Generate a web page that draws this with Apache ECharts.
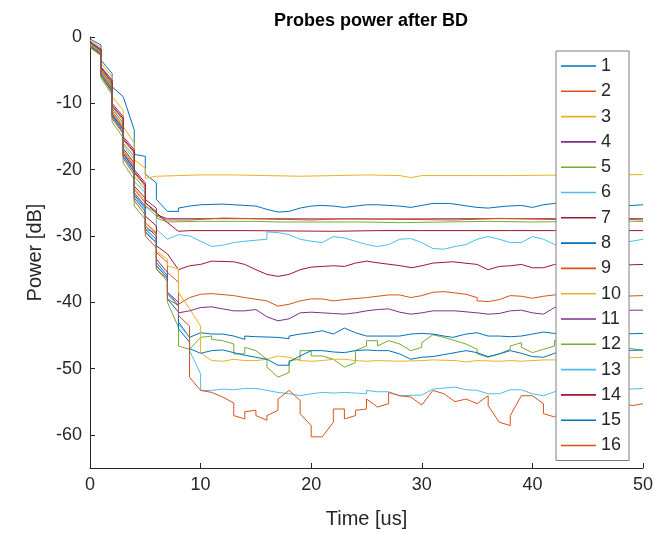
<!DOCTYPE html>
<html>
<head>
<meta charset="utf-8">
<script src="https://cdn.jsdelivr.net/npm/echarts@6/dist/echarts.min.js"></script>
<style>
html,body{margin:0;padding:0;background:#fff;}
#chart{width:665px;height:534px;}
</style>
</head>
<body>
<div id="chart"></div>
<script>
// ---- data: [time (us), power (dB)] per probe ----
const probe1 = [[0,-0.3],[1,-1.2],[1,-3.5],[2,-5.5],[2,-7.5],[3,-9],[4,-14],[4,-17.7],[5,-18],[5,-20.7],[6,-22],[6,-24.5],[7,-26.3],[8,-26.3],[8,-25.8],[9,-25.5],[10,-25.3],[12,-25.2],[13,-25.3],[14,-25.4],[15,-25.5],[16,-26.0],[17,-26.4],[18,-26.3],[19,-25.8],[20,-25.5],[21,-25.4],[22,-25.5],[23,-25.7],[24,-25.5],[25,-25.3],[26,-25.3],[28,-25.5],[29,-25.7],[30,-25.4],[31,-25.1],[32.5,-25.1],[35,-25.7],[36,-25.8],[37.7,-25.5],[39,-25.4],[40,-25.7],[41,-25.3],[42,-25.1],[44,-25.2],[46,-25.5],[48,-25.5],[50,-25.3]];
const probe2 = [[0,-1.2],[1,-2.4],[1,-5.4],[2,-7.8],[2,-11.5],[3,-13.8],[3,-17.2],[4,-19.5],[4,-23],[5,-25],[5,-28],[6,-29.5],[6,-32.5],[7,-34],[7,-35.5],[8,-37],[8,-40.3],[9,-39.3],[10,-38.8],[11,-38.7],[13,-39.0],[14,-39.3],[16,-39.8],[17,-40.6],[18,-40.3],[19,-39.8],[20,-39.5],[21,-39.5],[22,-39.8],[23,-39.6],[25,-39.3],[27,-38.9],[28,-38.9],[29,-39.3],[30,-39.0],[31,-38.5],[32,-38.4],[33,-38.6],[34,-38.8],[35,-39.3],[35,-39.8],[36,-39.9],[37,-39.6],[38,-39.0],[39,-39.1],[40,-39.4],[41,-39.1],[42,-38.9],[44,-39.0],[46,-39.3],[48,-39.1],[50,-39.0]];
const probe3 = [[0,-0.5],[1,-1.5],[1,-4],[2,-6],[2,-9],[3,-11],[3,-13.5],[4,-16],[4,-18.5],[5,-19.8],[5,-21.3],[6,-21.0],[8,-20.9],[10,-20.8],[13,-20.8],[16,-20.9],[19,-21.0],[22,-20.9],[25,-20.8],[28,-20.9],[29,-21.2],[30,-20.9],[35,-20.9],[38,-20.9],[41,-20.85],[44,-20.8],[47,-20.8],[50,-20.75]];
const probe4 = [[0,-0.7],[1,-1.8],[1,-4.5],[2,-6.5],[2,-10],[3,-12],[3,-15],[4,-17],[4,-20],[5,-22],[5,-24.5],[6,-25.8],[6,-26.8],[7,-27.4],[15,-27.4],[25,-27.45],[35,-27.4],[50,-27.4]];
const probe5 = [[0,-1.6],[1,-2.8],[1,-6.2],[2,-8.7],[2,-12.8],[3,-15.2],[3,-19],[4,-21.5],[4,-25.5],[5,-27.5],[5,-29],[6,-29.5],[6,-35],[7,-36.5],[7,-40],[8,-43.8],[8,-46.6],[9,-47.1],[10,-45.3],[11,-45.1],[11,-45.6],[12,-45.8],[13,-46.3],[13,-47.8],[14,-47.8],[14,-46.8],[15,-47.3],[16,-48.6],[16,-49.8],[17,-51.3],[18,-50.6],[18,-48.8],[19,-48.6],[19,-47.3],[20,-47.3],[20,-48.1],[21,-48.1],[22,-48.6],[23,-49.8],[24,-49.1],[24,-47.3],[25,-46.6],[25,-45.8],[26,-45.8],[26,-46.6],[27,-45.8],[28,-46.3],[29,-47.3],[30,-46.8],[30,-46.1],[31,-44.9],[32,-45.3],[33,-45.8],[34,-46.3],[35,-47.1],[35,-47.8],[36,-48.3],[37,-47.8],[38,-47.1],[38,-46.6],[39,-46.1],[39,-46.8],[40,-47.6],[41,-47.1],[42,-46.6],[42,-45.8],[43,-46.3],[44,-46.8],[45,-47.0],[46,-47.2],[47,-46.5],[48,-46.8],[49,-47.0],[50,-47.3]];
const probe6 = [[0,-1.0],[1,-2.1],[1,-5],[2,-7.2],[2,-10.8],[3,-13],[3,-16.3],[4,-18.5],[4,-21.8],[5,-23.5],[5,-25.5],[6,-27],[6,-29],[7,-30.5],[8,-29.8],[9,-30.0],[10,-30.8],[11,-31.6],[12,-31.4],[13,-31.0],[14,-30.8],[16,-30.5],[16,-29.4],[17,-29.5],[18,-29.8],[19,-30.5],[20,-30.8],[21,-31.0],[22,-30.1],[23,-30.3],[24,-30.8],[25,-31.3],[26,-31.6],[27,-31.3],[28,-30.5],[29,-30.4],[30,-31.0],[31,-31.9],[32,-32.0],[33,-31.6],[34,-31.3],[35,-30.5],[36,-30.1],[37,-30.5],[38,-31.0],[39,-31.0],[40,-30.1],[41,-30.5],[42,-31.3],[43,-31.5],[44,-31.0],[45,-30.5],[46,-30.3],[47,-30.6],[48,-31.0],[49,-30.8],[50,-30.5]];
const probe7 = [[0,-1.1],[1,-2.3],[1,-5.2],[2,-7.5],[2,-11.2],[3,-13.5],[3,-16.8],[4,-19],[4,-22.5],[5,-24.3],[5,-27],[6,-28.5],[6,-31.5],[7,-32.7],[8,-35.1],[9,-34.5],[10,-34.3],[11,-33.8],[13,-33.9],[14,-34.3],[15,-35.1],[16,-35.8],[17,-36.1],[18,-35.8],[19,-35.1],[20,-34.7],[21,-34.6],[22,-34.5],[23,-34.6],[24,-34.1],[25,-33.8],[26.2,-34.1],[28.1,-34.5],[29.1,-34.8],[30,-34.5],[31,-34.1],[32.8,-33.9],[35,-34.3],[36,-35.1],[37,-34.6],[38,-34.5],[39,-34.3],[40,-34.8],[41,-34.8],[42,-34.3],[44,-34.2],[46,-34.6],[48,-34.4],[50,-34.3]];
const probe8 = [[0,-1.2],[1,-2.4],[1,-5.5],[2,-7.9],[2,-11.7],[3,-14],[3,-17.6],[4,-20],[4,-23.8],[5,-25.8],[5,-29],[6,-30.5],[6,-34],[7,-36],[7,-38.5],[8,-40.5],[8,-43],[9,-45.3],[10,-44.6],[11,-44.8],[12,-44.8],[13,-45.1],[14,-45.6],[14,-45.1],[15,-45.2],[17,-45.3],[18,-45.5],[18,-45.1],[19,-44.8],[20,-44.6],[21,-44.3],[22,-44.8],[23,-43.9],[24,-44.6],[25,-45.1],[26,-45.1],[28,-45.1],[29,-44.8],[30,-44.7],[31,-44.8],[32,-45.1],[32.8,-45.3],[34,-44.8],[35,-44.6],[36,-45.1],[37,-45.1],[38,-45.2],[39,-45.1],[40,-44.8],[41,-44.5],[42,-44.7],[44,-44.9],[46,-45.0],[48,-44.8],[50,-44.7]];
const probe9 = [[0,-0.9],[1,-2],[1,-4.8],[2,-7],[2,-10.5],[3,-12.5],[3,-15.5],[4,-17.5],[4,-20.5],[5,-22.5],[5,-25],[6,-26.3],[6,-27],[7,-27.6],[9,-27.6],[9,-27.3],[12,-27.3],[12,-27.6],[20,-27.6],[20,-27.4],[23,-27.4],[23,-27.6],[33,-27.6],[33,-27.35],[37,-27.35],[37,-27.6],[44,-27.6],[44,-27.3],[46,-27.3],[46,-27.6],[50,-27.6]];
const probe10 = [[0,-1.1],[1,-2.3],[1,-5.2],[2,-7.6],[2,-11.3],[3,-13.6],[3,-17],[4,-19.3],[4,-22.8],[5,-24.8],[5,-28],[6,-29.8],[6,-32.3],[7,-33.5],[7,-34.5],[8,-35],[8,-38.5],[9,-41],[10,-43.6],[10,-47.6],[11,-48.8],[12,-48.9],[13,-48.6],[14,-48.8],[15,-48.8],[16,-48.6],[17,-48.1],[18,-48.3],[19,-48.8],[20,-48.9],[21,-48.8],[22,-48.6],[23,-48.6],[24,-48.8],[25,-48.9],[26,-48.8],[28,-48.9],[30,-48.8],[31,-48.7],[33,-48.8],[34,-49.0],[35,-48.8],[37,-48.9],[38,-48.8],[39,-48.9],[41,-48.7],[42,-48.7],[44,-48.6],[46,-48.5],[48,-48.4],[50,-48.3]];
const probe11 = [[0,-1.3],[1,-2.5],[1,-5.6],[2,-8],[2,-11.8],[3,-14],[3,-17.5],[4,-19.8],[4,-23.5],[5,-25.5],[5,-28.5],[6,-30],[6,-33.5],[7,-35.5],[7,-38.5],[8,-40],[8,-41.6],[9,-41.3],[10,-40.8],[11,-40.7],[12,-41.0],[13,-41.3],[14,-41.3],[15,-41.1],[16,-42.2],[17,-42.8],[18,-42.5],[19,-41.6],[20,-41.5],[21,-41.6],[22,-41.7],[23,-41.8],[24,-41.6],[25,-41.3],[26,-41.1],[27,-41.0],[28,-41.5],[29,-41.8],[30,-41.6],[31,-41.3],[33,-41.3],[35,-41.6],[36,-41.8],[37,-41.7],[38,-41.3],[39,-41.2],[40,-41.6],[41,-41.8],[42,-40.8],[44,-41.0],[46,-41.3],[48,-41.2],[50,-41.2]];
const probe12 = [[0,-1.0],[1,-2.2],[1,-5],[2,-7.3],[2,-10.8],[3,-13],[3,-16],[4,-18],[4,-21],[5,-23],[5,-25.5],[6,-26.5],[6,-27.3],[7,-27.9],[10,-27.8],[15,-27.8],[17,-27.9],[20,-27.9],[25,-27.9],[28,-28.0],[32,-27.9],[36,-27.8],[40,-27.9],[45,-27.8],[50,-27.8]];
const probe13 = [[0,-1.3],[1,-2.5],[1,-5.6],[2,-8.1],[2,-11.9],[3,-14.2],[3,-17.8],[4,-20.2],[4,-24],[5,-26],[5,-29.3],[6,-31],[6,-34.5],[7,-36.3],[7,-38.8],[8,-40.6],[8,-43.3],[9,-45.3],[9,-47.3],[10,-50.8],[10,-53.3],[11,-53.3],[12,-53.1],[13,-53.2],[14,-53.0],[15,-53.0],[16,-53.3],[17,-53.6],[18,-53.8],[19,-54.1],[19,-53.8],[20,-53.8],[21,-53.6],[22,-53.7],[23,-53.6],[24,-53.7],[25,-53.8],[25,-53.3],[26,-53.5],[27,-53.5],[28,-54.1],[30,-54.0],[31,-53.1],[33,-52.8],[34,-53.2],[35,-53.3],[36,-53.8],[37,-53.8],[38,-53.2],[39,-53.2],[40,-53.8],[41,-54.1],[42,-53.5],[44,-53.3],[46,-53.5],[48,-53.2],[50,-53.0]];
const probe14 = [[0,-0.8],[1,-2],[1,-4.6],[2,-6.8],[2,-10.3],[3,-12.3],[3,-15.3],[4,-17.3],[4,-20.3],[5,-22.3],[5,-25],[6,-26.5],[7,-28],[8,-29.3],[9,-29.2],[14,-29.2],[18,-29.25],[22,-29.3],[26,-29.2],[30,-29.2],[34,-29.2],[38,-29.2],[42,-29.2],[50,-29.2]];
const probe15 = [[0,-1.4],[1,-2.6],[1,-5.8],[2,-8.2],[2,-12],[3,-14.4],[3,-18],[4,-20.4],[4,-24.3],[5,-26.3],[5,-29.5],[6,-31],[6,-34.5],[7,-36.3],[7,-39.5],[8,-41.5],[8,-44],[9,-46],[9,-47],[10,-47.7],[11,-47.3],[12,-47.2],[13,-47.6],[14,-48.0],[15,-48.3],[16,-48.6],[17,-49.5],[18,-49.5],[18,-49.0],[19,-48.1],[20,-47.3],[21,-47.3],[22,-47.5],[23,-47.6],[24,-47.3],[25,-47.2],[26,-47.3],[27,-47.3],[28,-47.8],[29,-48.6],[30,-48.3],[31,-48.2],[33,-47.6],[34,-47.3],[35,-47.6],[36,-48.2],[37,-47.8],[38,-47.3],[39,-47.7],[40,-48.2],[41,-48.3],[42,-47.7],[44,-47.5],[46,-47.4],[48,-47.3],[50,-47.2]];
const probe16 = [[0,-1.5],[1,-2.7],[1,-5.9],[2,-8.4],[2,-12.3],[3,-14.6],[3,-18.3],[4,-20.8],[4,-24.7],[5,-26.8],[5,-30],[6,-31.8],[6,-35],[7,-36.8],[7,-39.5],[8,-40.5],[8,-42],[9,-43.6],[9,-51.3],[10,-53.3],[11,-53.6],[12,-54.3],[13,-55.2],[13,-57.1],[14,-57.6],[14,-56.5],[15,-56.3],[15,-57.1],[16,-57.8],[16,-57.1],[17,-56.3],[17,-54.6],[18,-53.3],[19,-54.8],[19,-56.8],[20,-58.6],[20,-60.3],[21,-60.3],[22,-58.1],[22,-56.1],[23,-56.1],[23,-57.6],[24,-57.1],[24,-56.3],[25,-56.1],[25,-54.6],[26,-55.8],[27,-55.3],[27,-53.6],[28,-54.1],[29,-54.3],[30,-55.5],[31,-53.3],[32,-53.8],[33,-55.0],[34,-54.6],[35,-55.3],[36,-54.1],[36,-55.6],[37,-58.1],[38,-58.6],[38,-57.1],[39,-54.1],[40,-54.1],[41,-55.3],[41,-56.8],[42,-57.3],[43,-56.0],[44,-55.0],[45,-55.3],[46,-55.8],[47,-55.5],[48,-55.0],[49,-55.6],[50,-55.3]];

const probeNames = ['1','2','3','4','5','6','7','8','9','10','11','12','13','14','15','16'];
const probeData = [probe1,probe2,probe3,probe4,probe5,probe6,probe7,probe8,probe9,probe10,probe11,probe12,probe13,probe14,probe15,probe16];
const yTicks = [0,-10,-20,-30,-40,-50,-60];
const palette = ['#0072BD','#D95319','#EDB120','#7E2F8E','#77AC30','#4DBEEE','#A2142F'];

const FONT = "'Liberation Sans', Arial, Helvetica, sans-serif";
const AX = '#262626';

const chart = echarts.init(document.getElementById('chart'), null, {renderer:'canvas'});
chart.setOption({
  animation: false,
  backgroundColor: '#ffffff',
  color: palette,
  title: {
    text: 'Probes power after BD',
    left: 366, top: 7, textAlign: 'center',
    textStyle: {fontFamily: FONT, fontSize: 18, fontWeight: 'bold', color: '#000'}
  },
  grid: {left: 90, right: 22, top: 37, bottom: 65, containLabel: false},
  xAxis: {
    type: 'value', min: 0, max: 50, interval: 10,
    name: 'Time [us]', nameLocation: 'middle', nameGap: 41,
    nameTextStyle: {fontFamily: FONT, fontSize: 20, color: AX},
    axisLine: {show: true, onZero: false, lineStyle: {color: AX, width: 1}},
    axisTick: {show: true, inside: true, length: 5, lineStyle: {color: AX}},
    axisLabel: {fontFamily: FONT, fontSize: 18, color: AX, margin: 8},
    splitLine: {show: false}
  },
  yAxis: {
    type: 'value', min: -65, max: 0,
    name: 'Power [dB]', nameLocation: 'middle', nameGap: 45, nameRotate: 90,
    nameTextStyle: {fontFamily: FONT, fontSize: 20, color: AX},
    axisLine: {show: true, onZero: false, lineStyle: {color: AX, width: 1}},
    axisTick: {show: true, inside: true, length: 5, lineStyle: {color: AX}, customValues: yTicks},
    axisLabel: {fontFamily: FONT, fontSize: 18, color: AX, margin: 8, customValues: yTicks},
    splitLine: {show: false}
  },
  legend: {
    data: probeNames,
    orient: 'vertical',
    left: 556, top: 51,
    padding: [6, 8, 6, 5],
    icon: 'rect',
    itemWidth: 35, itemHeight: 1.6, itemGap: 7.3,
    backgroundColor: '#ffffff',
    borderColor: '#7f7f7f', borderWidth: 1, borderRadius: 0,
    textStyle: {fontFamily: FONT, fontSize: 18, color: AX, lineHeight: 18},
    selectedMode: false
  },
  series: probeData.map((d, i) => ({
    name: probeNames[i],
    type: 'line',
    data: d,
    symbol: 'none',
    showSymbol: false,
    lineStyle: {width: 1, color: palette[i % 7]},
    itemStyle: {color: palette[i % 7]},
    silent: true,
    clip: true
  }))
});
</script>
</body>
</html>
